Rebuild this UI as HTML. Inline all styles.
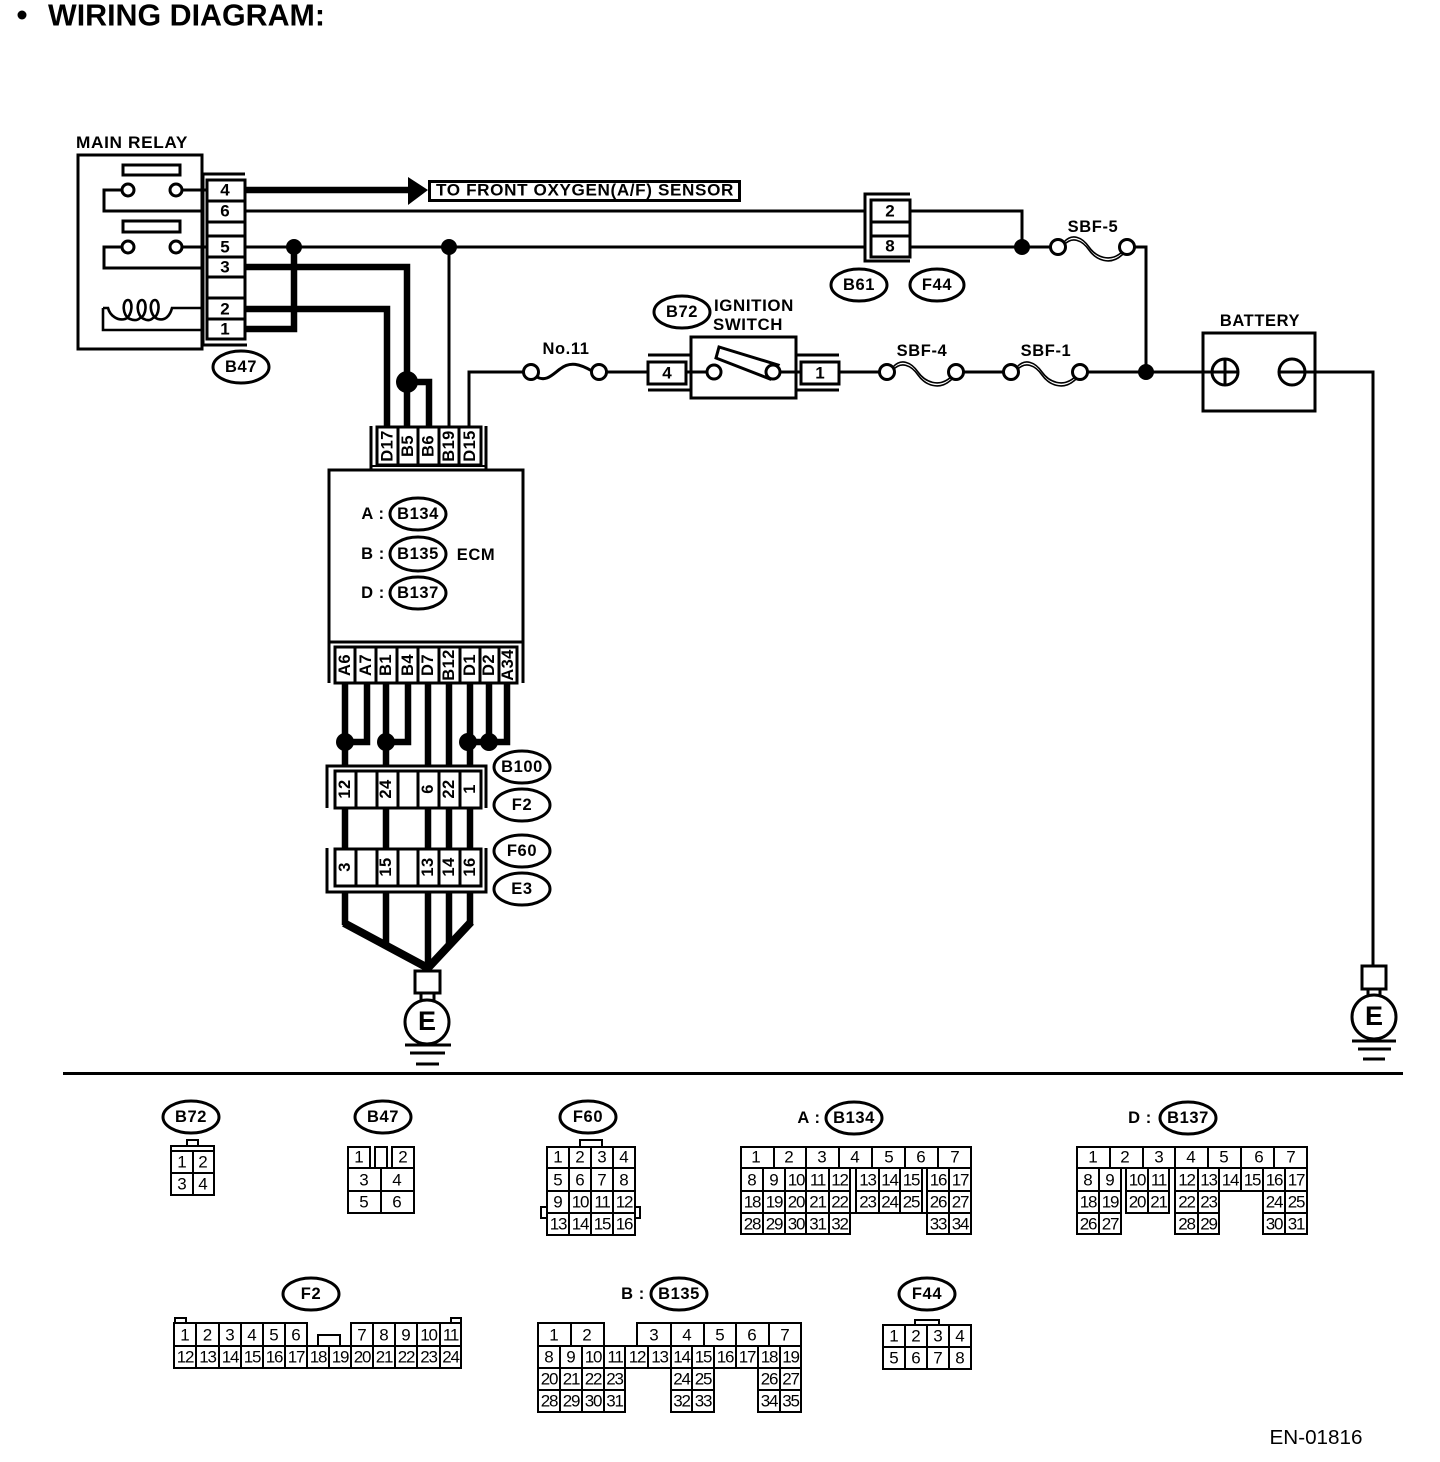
<!DOCTYPE html>
<html><head><meta charset="utf-8"><title>Wiring Diagram</title>
<style>
html,body{margin:0;padding:0;background:#fff}
svg{display:block}
text{font-family:"Liberation Sans",sans-serif;fill:#000;stroke:none;text-anchor:middle;dominant-baseline:central}
.b{font-weight:bold;font-size:16.5px;letter-spacing:.6px}
.p{font-weight:bold;font-size:17px}
.r{font-weight:bold;font-size:16.5px;letter-spacing:.4px}
.n{font-size:17px}
.m{font-size:17px;letter-spacing:-1.2px}
.w{fill:none;stroke:#000;stroke-width:3}
.t{fill:none;stroke:#000;stroke-width:6.5}
.g{fill:none;stroke:#000;stroke-width:2;stroke-linecap:square}
.c{fill:#fff;stroke:#000;stroke-width:3}
.o{fill:#fff;stroke:#000;stroke-width:3}
</style></head><body>
<svg width="1440" height="1462" viewBox="0 0 1440 1462" xmlns="http://www.w3.org/2000/svg">
<defs>
<g id="fz"><path d="M6 -5C14 -14 24 -10 31 0C38 10 52 16 64 5" class="g" style="stroke-width:1.6"/><path d="M6 -2C14 -11 24 -7 31 3C38 13 52 19 64 8" class="g" style="stroke-width:1.6"/><circle cx="0" cy="0" r="7.5" class="c"/><circle cx="69" cy="0" r="7.5" class="c"/></g>
</defs>
<circle cx="22" cy="15" r="4.500"/>
<text x="186.500" y="15" style="font-size:31px;font-weight:bold" textLength="277" lengthAdjust="spacingAndGlyphs">WIRING DIAGRAM:</text>

<!-- Main relay -->
<text x="132" y="143" class="b" textLength="112" lengthAdjust="spacingAndGlyphs">MAIN RELAY</text>
<rect x="78" y="155" width="124" height="194" class="w"/>
<rect x="123" y="165" width="57" height="10" class="w"/>
<rect x="123" y="221" width="57" height="11" class="w"/>
<path d="M122 190H104V211H203M182 190H207M122 247H104V268H203M182 247H207" class="w"/>
<circle cx="128" cy="190" r="6" class="c"/><circle cx="176" cy="190" r="6" class="c"/>
<circle cx="128" cy="247" r="6" class="c"/><circle cx="176" cy="247" r="6" class="c"/>
<path d="M103 308H108C110 316 118 321 125 319C133 316 133 300 128 300C122 300 122 316 130 319C135 321 138 320 140 318C147 316 147 300 142 300C136 300 136 316 144 319C148 321 151 320 153 318C160 316 160 300 155 300C149 300 149 316 158 319C165 321 170 316 172 308H203M203 330H103V308" class="w" style="stroke-width:2.600"/>
<path d="M203 174H245M203 174V345M203 345H247" class="w"/>
<rect x="207" y="180" width="38" height="159" class="w"/>
<path d="M207 201H245M207 222H245M207 236H245M207 257H245M207 277H245M207 298H245M207 319H245" class="w"/>
<text x="225" y="190" class="p">4</text><text x="225" y="211" class="p">6</text><text x="225" y="247" class="p">5</text><text x="225" y="267" class="p">3</text><text x="225" y="309" class="p">2</text><text x="225" y="329" class="p">1</text>
<ellipse cx="241" cy="367" rx="28" ry="16" class="o"/><text x="241" y="367" class="b">B47</text>

<!-- Top wiring -->
<path d="M245 190H410" class="t"/>
<polygon points="408,177 428,190 408,205"/>
<rect x="429.500" y="181.500" width="310" height="19" class="w"/>
<text x="585" y="190.500" class="b" textLength="298" lengthAdjust="spacingAndGlyphs">TO FRONT OXYGEN(A/F) SENSOR</text>
<path d="M245 211H866M245 247H866M449 247V427M469 427V372H524" class="w"/>
<path d="M245 267H407V427M245 309H387V427M407 382H429V427M245 329H294V247" class="t"/>
<circle cx="294" cy="247" r="8"/><circle cx="449" cy="247" r="8"/><circle cx="407" cy="382" r="11"/>

<!-- B61/F44 -->
<path d="M910 194H865V261H910" class="w"/>
<rect x="871" y="200" width="39" height="57" class="w"/>
<path d="M871 222H910M871 236H910" class="w"/>
<text x="890" y="211" class="p">2</text><text x="890" y="246" class="p">8</text>
<path d="M910 211H1022V247M910 247H1050M1135 247H1146V372M1088 372H1212M1305 372H1373V966" class="w"/>
<circle cx="1022" cy="247" r="8"/>
<circle cx="1146" cy="372" r="8"/>
<use href="#fz" x="1058" y="247"/>
<text x="1093" y="227" class="b">SBF-5</text>
<ellipse cx="859" cy="285" rx="28" ry="16" class="o"/><text x="859" y="285" class="b">B61</text>
<ellipse cx="937" cy="285" rx="27" ry="16" class="o"/><text x="937" y="285" class="b">F44</text>

<!-- Bottom rail -->
<path d="M469 372H524M606 372H647M686 372H707M780 372H801M839 372H880M964 372H1004" class="w"/>
<circle cx="531" cy="372" r="7.500" class="c"/><circle cx="599" cy="372" r="7.500" class="c"/>
<path d="M537 377C546 382 552 375 560 369C570 361 580 364 592 371" class="w"/>
<text x="566" y="349" class="b">No.11</text>
<path d="M648 355H691M648 390H691M796 355H839M796 390H839" class="w"/>
<rect x="648" y="362" width="38" height="22" class="w"/><text x="667" y="373" class="p">4</text>
<rect x="801" y="362" width="38" height="22" class="w"/><text x="820" y="373" class="p">1</text>
<rect x="691" y="337" width="105" height="61" class="w"/>
<polygon points="719,347 716,358 770,379 778,365" class="w"/>
<circle cx="714" cy="372" r="7" class="c"/><circle cx="773" cy="372" r="7" class="c"/>
<ellipse cx="682" cy="312" rx="28" ry="16" class="o"/><text x="682" y="312" class="b">B72</text>
<text x="754" y="306" class="b" textLength="80" lengthAdjust="spacingAndGlyphs">IGNITION</text><text x="748" y="325" class="b" textLength="70" lengthAdjust="spacingAndGlyphs">SWITCH</text>
<use href="#fz" x="887" y="372"/><text x="922" y="351" class="b">SBF-4</text>
<use href="#fz" x="1011" y="372"/><text x="1046" y="351" class="b">SBF-1</text>
<text x="1260" y="321" class="b">BATTERY</text>
<rect x="1203" y="333" width="112" height="78" class="w"/>
<circle cx="1225" cy="372" r="13" class="c"/><path d="M1212 372H1238M1225 359V385" class="w"/>
<circle cx="1292" cy="372" r="13" class="c"/><path d="M1279 372H1305" class="w"/>

<!-- ECM -->
<path d="M329 642V470H523V642M329 642H523M329 642V683M523 642V683M371 426V469M486 426V469" class="w"/>
<path d="M371 466H486" class="w" style="stroke-width:2"/>
<rect x="377" y="427" width="104" height="38" class="w"/>
<path d="M398 427V465M418 427V465M439 427V465M459 427V465" class="w"/>
<text transform="rotate(-90 387.500 446)" x="387.500" y="446" class="r">D17</text>
<text transform="rotate(-90 408 446)" x="408" y="446" class="r">B5</text>
<text transform="rotate(-90 428.500 446)" x="428.500" y="446" class="r">B6</text>
<text transform="rotate(-90 449 446)" x="449" y="446" class="r">B19</text>
<text transform="rotate(-90 470 446)" x="470" y="446" class="r">D15</text>
<text x="373" y="514" class="b">A :</text><text x="373" y="554" class="b">B :</text><text x="373" y="593" class="b">D :</text>
<ellipse cx="418" cy="514" rx="28" ry="16" class="o"/><text x="418" y="514" class="b">B134</text>
<ellipse cx="418" cy="554" rx="28" ry="17" class="o"/><text x="418" y="554" class="b">B135</text>
<ellipse cx="418" cy="593" rx="28" ry="16" class="o"/><text x="418" y="593" class="b">B137</text>
<text x="476" y="555" class="b">ECM</text>
<rect x="335" y="647" width="182" height="36" class="w"/>
<path d="M355 647V683M376 647V683M397 647V683M418 647V683M439 647V683M460 647V683M480 647V683M499 647V683" class="w"/>
<text transform="rotate(-90 345 665)" x="345" y="665" class="r">A6</text>
<text transform="rotate(-90 366 665)" x="366" y="665" class="r">A7</text>
<text transform="rotate(-90 386 665)" x="386" y="665" class="r">B1</text>
<text transform="rotate(-90 408 665)" x="408" y="665" class="r">B4</text>
<text transform="rotate(-90 428 665)" x="428" y="665" class="r">D7</text>
<text transform="rotate(-90 449 665)" x="449" y="665" class="r">B12</text>
<text transform="rotate(-90 470 665)" x="470" y="665" class="r">D1</text>
<text transform="rotate(-90 489 665)" x="489" y="665" class="r">D2</text>
<text transform="rotate(-90 508 665)" x="508" y="665" class="r">A34</text>

<!-- ECM lower wiring -->
<path d="M345 683V766M367 683V742H345M386 683V766M408 683V742H386M428 683V766M449 683V766M470 683V766M489 683V742M507 683V742H470" class="t"/>
<circle cx="345" cy="742" r="9"/><circle cx="386" cy="742" r="9"/><circle cx="468" cy="742" r="9"/><circle cx="489" cy="742" r="9"/>
<path d="M345 808V848M386 808V848M428 808V848M449 808V848M470 808V848" class="t"/>
<path d="M345 892V925M386 892V945M428 892V968M449 892V945M470 892V925" class="t"/>
<path d="M344 923L428 968L471 922" class="t" style="stroke-width:8"/>

<path d="M327 808V766H486V808" class="w"/>
<rect x="335" y="771" width="146" height="37" class="w"/>
<path d="M356 771V808M377 771V808M398 771V808M418 771V808M439 771V808M460 771V808" class="w"/>
<path d="M327 848V892H486V848" class="w"/>
<rect x="335" y="849" width="146" height="37" class="w"/>
<path d="M356 849V886M377 849V886M398 849V886M418 849V886M439 849V886M460 849V886" class="w"/>
<text transform="rotate(-90 345 789)" x="345" y="789" class="r">12</text>
<text transform="rotate(-90 386 789)" x="386" y="789" class="r">24</text>
<text transform="rotate(-90 428 789)" x="428" y="789" class="r">6</text>
<text transform="rotate(-90 449 789)" x="449" y="789" class="r">22</text>
<text transform="rotate(-90 470 789)" x="470" y="789" class="r">1</text>
<text transform="rotate(-90 345 867)" x="345" y="867" class="r">3</text>
<text transform="rotate(-90 386 867)" x="386" y="867" class="r">15</text>
<text transform="rotate(-90 428 867)" x="428" y="867" class="r">13</text>
<text transform="rotate(-90 449 867)" x="449" y="867" class="r">14</text>
<text transform="rotate(-90 470 867)" x="470" y="867" class="r">16</text>
<ellipse cx="522" cy="767" rx="28" ry="16" class="o"/><text x="522" y="767" class="b">B100</text>
<ellipse cx="522" cy="805" rx="28" ry="16" class="o"/><text x="522" y="805" class="b">F2</text>
<ellipse cx="522" cy="851" rx="28" ry="16" class="o"/><text x="522" y="851" class="b">F60</text>
<ellipse cx="522" cy="889" rx="28" ry="16" class="o"/><text x="522" y="889" class="b">E3</text>

<!-- Grounds -->
<rect x="415" y="971" width="25" height="22" class="c"/>
<path d="M421 993V1002M434 993V1002" class="w"/>
<circle cx="427" cy="1022" r="22" class="c"/>
<text x="427" y="1021" style="font-size:27px;font-weight:bold">E</text>
<path d="M405 1045H451M410 1053H445M416 1064H439" class="w"/>
<rect x="1362" y="966" width="24" height="23" class="c"/>
<path d="M1368 989V998M1380 989V998" class="w"/>
<circle cx="1374" cy="1017" r="22" class="c"/>
<text x="1374" y="1016" style="font-size:27px;font-weight:bold">E</text>
<path d="M1352 1041H1396M1358 1049H1391M1363 1059H1385" class="w"/>

<path d="M63 1073.500H1403" class="w"/>

<!-- Connector views -->
<ellipse cx="191" cy="1117" rx="28" ry="16" class="o"/><text x="191" y="1117" class="b">B72</text>
<path class="g" d="M187 1146V1140H198V1146M171 1146H214M171 1151H214M171 1173H214M171 1195H214M171 1146V1195M214 1146V1195M193 1151V1195"/>
<text x="182" y="1162" class="n">1</text><text x="203" y="1162" class="n">2</text><text x="182" y="1184" class="n">3</text><text x="203" y="1184" class="n">4</text>

<ellipse cx="383" cy="1117" rx="28" ry="16" class="o"/><text x="383" y="1117" class="b">B47</text>
<path class="g" d="M348 1147H370M375 1147H387M392 1147H414M348 1168H414M348 1191H414M348 1213H414M348 1147V1213M414 1147V1213M381 1168V1213M370 1147V1168M375 1147V1168M387 1147V1168M392 1147V1168"/>
<text x="359" y="1157" class="n">1</text><text x="403" y="1157" class="n">2</text><text x="364" y="1180" class="n">3</text><text x="397" y="1180" class="n">4</text><text x="364" y="1202" class="n">5</text><text x="397" y="1202" class="n">6</text>

<ellipse cx="588" cy="1117" rx="28" ry="16" class="o"/><text x="588" y="1117" class="b">F60</text>
<path class="g" d="M547 1147H635M547 1168H635M547 1191H635M547 1213H635M547 1235H635M547 1147V1235M635 1147V1235M569 1147V1235M591 1147V1235M613 1147V1235M580 1147V1140H602V1147M547 1207H541V1218H547M635 1207H640V1218H635"/>
<text x="558" y="1157" class="n">1</text><text x="580" y="1157" class="n">2</text><text x="602" y="1157" class="n">3</text><text x="624" y="1157" class="n">4</text>
<text x="558" y="1180" class="n">5</text><text x="580" y="1180" class="n">6</text><text x="602" y="1180" class="n">7</text><text x="624" y="1180" class="n">8</text>
<text x="558" y="1202" class="n">9</text><text x="580" y="1202" class="m">10</text><text x="602" y="1202" class="m">11</text><text x="624" y="1202" class="m">12</text>
<text x="558" y="1224" class="m">13</text><text x="580" y="1224" class="m">14</text><text x="602" y="1224" class="m">15</text><text x="624" y="1224" class="m">16</text>

<!-- A:B134 -->
<text x="809" y="1118" class="b">A :</text>
<ellipse cx="854" cy="1118" rx="28" ry="16" class="o"/><text x="854" y="1118" class="b">B134</text>
<path class="g" d="M741 1147H971M741 1168H971M741 1191H850M856 1191H922M927 1191H971M741 1213H971M741 1234H850M927 1234H971M741 1147V1234M971 1147V1234M850 1168V1234M927 1168V1234M774 1147V1168M806 1147V1168M839 1147V1168M872 1147V1168M905 1147V1168M938 1147V1168M763 1168V1234M785 1168V1234M806 1168V1234M829 1168V1234M856 1168V1213M879 1168V1213M900 1168V1213M922 1168V1213M949 1168V1234"/>
<text x="756" y="1157" class="n">1</text><text x="789" y="1157" class="n">2</text><text x="822" y="1157" class="n">3</text><text x="855" y="1157" class="n">4</text><text x="889" y="1157" class="n">5</text><text x="921" y="1157" class="n">6</text><text x="955" y="1157" class="n">7</text>
<text x="752" y="1180" class="n">8</text><text x="774" y="1180" class="n">9</text><text x="796" y="1180" class="m">10</text><text x="817.500" y="1180" class="m">11</text><text x="839.500" y="1180" class="m">12</text><text x="867.500" y="1180" class="m">13</text><text x="889.500" y="1180" class="m">14</text><text x="911" y="1180" class="m">15</text><text x="938" y="1180" class="m">16</text><text x="960" y="1180" class="m">17</text>
<text x="752" y="1202" class="m">18</text><text x="774" y="1202" class="m">19</text><text x="796" y="1202" class="m">20</text><text x="817.500" y="1202" class="m">21</text><text x="839.500" y="1202" class="m">22</text><text x="867.500" y="1202" class="m">23</text><text x="889.500" y="1202" class="m">24</text><text x="911" y="1202" class="m">25</text><text x="938" y="1202" class="m">26</text><text x="960" y="1202" class="m">27</text>
<text x="752" y="1224" class="m">28</text><text x="774" y="1224" class="m">29</text><text x="796" y="1224" class="m">30</text><text x="817.500" y="1224" class="m">31</text><text x="839.500" y="1224" class="m">32</text><text x="938" y="1224" class="m">33</text><text x="960" y="1224" class="m">34</text>

<!-- D:B137 -->
<text x="1140" y="1118" class="b">D :</text>
<ellipse cx="1188" cy="1118" rx="28" ry="16" class="o"/><text x="1188" y="1118" class="b">B137</text>
<path class="g" d="M1077 1147H1307M1077 1168H1307M1077 1191H1121M1126 1191H1169M1175 1191H1307M1077 1213H1121M1126 1213H1169M1175 1213H1219M1263 1213H1307M1077 1234H1121M1175 1234H1219M1263 1234H1307M1077 1147V1234M1307 1147V1234M1110 1147V1168M1143 1147V1168M1175 1147V1234M1208 1147V1168M1241 1147V1168M1274 1147V1168M1099 1168V1234M1121 1168V1234M1126 1168V1213M1148 1168V1213M1169 1168V1213M1198 1168V1234M1219 1168V1234M1241 1168V1191M1263 1168V1234M1285 1168V1234"/>
<text x="1093" y="1157" class="n">1</text><text x="1125" y="1157" class="n">2</text><text x="1159" y="1157" class="n">3</text><text x="1191" y="1157" class="n">4</text><text x="1224" y="1157" class="n">5</text><text x="1259" y="1157" class="n">6</text><text x="1291" y="1157" class="n">7</text>
<text x="1088" y="1180" class="n">8</text><text x="1110" y="1180" class="n">9</text><text x="1137" y="1180" class="m">10</text><text x="1158.500" y="1180" class="m">11</text><text x="1186.500" y="1180" class="m">12</text><text x="1208.500" y="1180" class="m">13</text><text x="1230" y="1180" class="m">14</text><text x="1252" y="1180" class="m">15</text><text x="1274" y="1180" class="m">16</text><text x="1296" y="1180" class="m">17</text>
<text x="1088" y="1202" class="m">18</text><text x="1110" y="1202" class="m">19</text><text x="1137" y="1202" class="m">20</text><text x="1158.500" y="1202" class="m">21</text><text x="1186.500" y="1202" class="m">22</text><text x="1208.500" y="1202" class="m">23</text><text x="1274" y="1202" class="m">24</text><text x="1296" y="1202" class="m">25</text>
<text x="1088" y="1224" class="m">26</text><text x="1110" y="1224" class="m">27</text><text x="1186.500" y="1224" class="m">28</text><text x="1208.500" y="1224" class="m">29</text><text x="1274" y="1224" class="m">30</text><text x="1296" y="1224" class="m">31</text>

<!-- F2 -->
<ellipse cx="311" cy="1294" rx="28" ry="16" class="o"/><text x="311" y="1294" class="b">F2</text>
<path class="g" d="M174 1323H307M351 1323H461M174 1346H461M174 1368H461M174 1323V1368M461 1323V1368M175 1323V1318H186V1323M451 1323V1318H461V1323M318 1346V1335H340V1346M196 1323V1368M219 1323V1368M241 1323V1368M263 1323V1368M285 1323V1368M307 1323V1368M329 1346V1368M351 1323V1368M373 1323V1368M395 1323V1368M417 1323V1368M440 1323V1368"/>
<text x="185" y="1335" class="n">1</text><text x="207.500" y="1335" class="n">2</text><text x="230" y="1335" class="n">3</text><text x="252" y="1335" class="n">4</text><text x="274" y="1335" class="n">5</text><text x="296" y="1335" class="n">6</text><text x="362" y="1335" class="n">7</text><text x="384" y="1335" class="n">8</text><text x="406" y="1335" class="n">9</text><text x="428.500" y="1335" class="m">10</text><text x="450.500" y="1335" class="m">11</text>
<text x="185" y="1357" class="m">12</text><text x="207.500" y="1357" class="m">13</text><text x="230" y="1357" class="m">14</text><text x="252" y="1357" class="m">15</text><text x="274" y="1357" class="m">16</text><text x="296" y="1357" class="m">17</text><text x="318" y="1357" class="m">18</text><text x="340" y="1357" class="m">19</text><text x="362" y="1357" class="m">20</text><text x="384" y="1357" class="m">21</text><text x="406" y="1357" class="m">22</text><text x="428.500" y="1357" class="m">23</text><text x="450.500" y="1357" class="m">24</text>

<!-- B:B135 -->
<text x="633" y="1294" class="b">B :</text>
<ellipse cx="679" cy="1294" rx="28" ry="16" class="o"/><text x="679" y="1294" class="b">B135</text>
<path class="g" d="M538 1323H604M637 1323H801M538 1346H801M538 1368H801M538 1390H625M671 1390H714M758 1390H801M538 1412H625M671 1412H714M758 1412H801M538 1323V1412M801 1323V1412M571 1323V1346M604 1323V1368M637 1323V1346M671 1323V1412M704 1323V1346M736 1323V1346M769 1323V1346M560 1346V1412M582 1346V1412M604 1368V1412M625 1346V1412M648 1346V1368M692 1346V1412M714 1346V1412M736 1346V1368M758 1346V1412M780 1346V1412"/>
<text x="554" y="1335" class="n">1</text><text x="587" y="1335" class="n">2</text><text x="654" y="1335" class="n">3</text><text x="687" y="1335" class="n">4</text><text x="720" y="1335" class="n">5</text><text x="752" y="1335" class="n">6</text><text x="785" y="1335" class="n">7</text>
<text x="549" y="1357" class="n">8</text><text x="571" y="1357" class="n">9</text><text x="593" y="1357" class="m">10</text><text x="615" y="1357" class="m">11</text><text x="637" y="1357" class="m">12</text><text x="659.500" y="1357" class="m">13</text><text x="681.500" y="1357" class="m">14</text><text x="703" y="1357" class="m">15</text><text x="725" y="1357" class="m">16</text><text x="747" y="1357" class="m">17</text><text x="769" y="1357" class="m">18</text><text x="790.500" y="1357" class="m">19</text>
<text x="549" y="1379" class="m">20</text><text x="571" y="1379" class="m">21</text><text x="593" y="1379" class="m">22</text><text x="614.500" y="1379" class="m">23</text><text x="681.500" y="1379" class="m">24</text><text x="703" y="1379" class="m">25</text><text x="769" y="1379" class="m">26</text><text x="790.500" y="1379" class="m">27</text>
<text x="549" y="1401" class="m">28</text><text x="571" y="1401" class="m">29</text><text x="593" y="1401" class="m">30</text><text x="614.500" y="1401" class="m">31</text><text x="681.500" y="1401" class="m">32</text><text x="703" y="1401" class="m">33</text><text x="769" y="1401" class="m">34</text><text x="790.500" y="1401" class="m">35</text>

<!-- F44 -->
<ellipse cx="927" cy="1294" rx="28" ry="16" class="o"/><text x="927" y="1294" class="b">F44</text>
<path class="g" d="M883 1325H971M883 1347H971M883 1369H971M883 1325V1369M971 1325V1369M905 1325V1369M927 1325V1369M949 1325V1369M915 1325V1320H939V1325"/>
<text x="894" y="1336" class="n">1</text><text x="916" y="1336" class="n">2</text><text x="938" y="1336" class="n">3</text><text x="960" y="1336" class="n">4</text>
<text x="894" y="1358" class="n">5</text><text x="916" y="1358" class="n">6</text><text x="938" y="1358" class="n">7</text><text x="960" y="1358" class="n">8</text>

<text x="1316" y="1438" style="font-size:20px" textLength="93" lengthAdjust="spacingAndGlyphs">EN-01816</text>
</svg>
</body></html>
